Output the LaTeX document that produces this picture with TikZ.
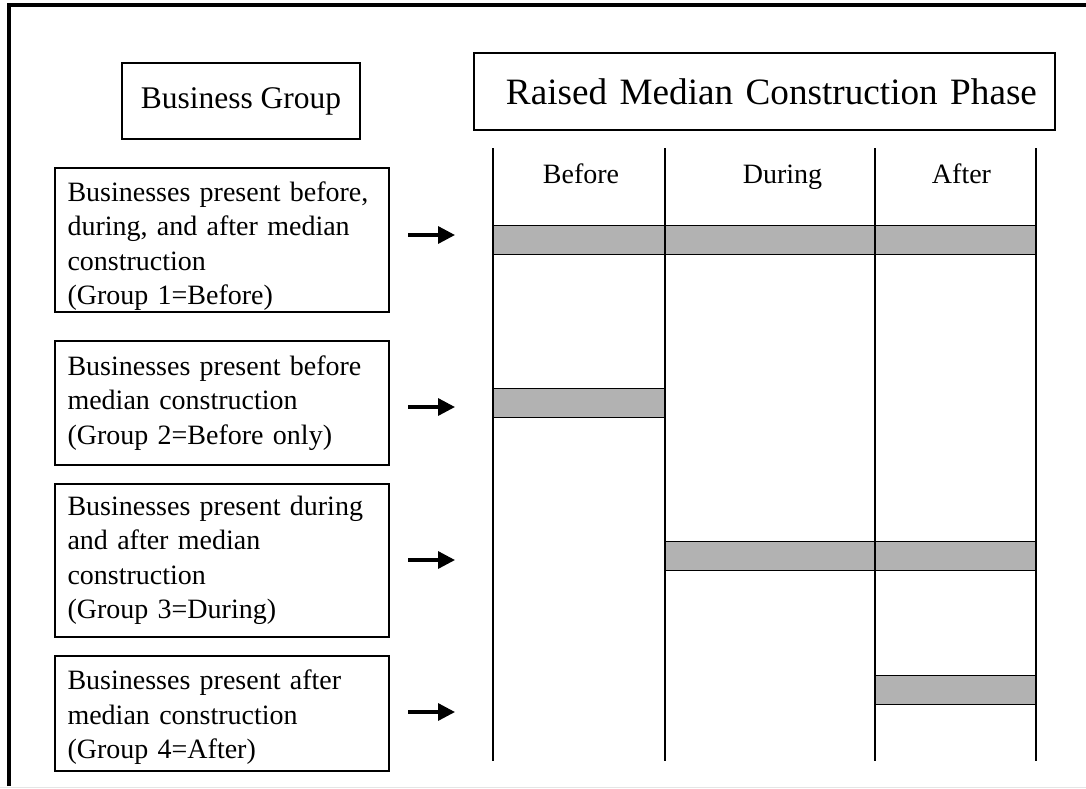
\documentclass[tikz,border=0pt]{standalone}
\usepackage{fontspec}
\setmainfont{Liberation Serif}
\usetikzlibrary{arrows.meta,positioning}

\begin{document}
\begin{tikzpicture}[x=1pt, y=-1pt, on grid, >={Triangle[length=17pt,width=17pt]},
                font=\fontsize{28}{34.5}\selectfont,
                grp/.style={draw, line width=1.2pt, minimum width=334pt, text width=309pt, inner xsep=12.5pt, inner ysep=1pt, align=left},
                head/.style={draw, line width=1.2pt, inner sep=0pt},
                bar/.style={draw, line width=1pt, fill=black!30},
                col/.style={line width=1.2pt},
                arr/.style={->, line width=3.3pt}]
                \useasboundingbox (0,0) rectangle (1086,788);
                % frame
                \draw[line width=4pt] (8.8,786) -- (8.8,5.3) -- (1086,5.3);
                \draw[black!10, line width=1pt] (0,787) -- (1086,787);

                % headers
                \node[head, minimum width=238pt, minimum height=76pt, font=\fontsize{31.5}{36}\selectfont] (0) at (241,101) {Business Group};
                \node[head, minimum height=77pt, text width=545pt, inner xsep=18pt, align=right, font=\fontsize{37.2}{44}\selectfont] (00) at (764.5,91.5) {Raised Median Construction Phase};

                % business groups
                \node[grp, minimum height=144pt] (1) at (222,240) {\rule{0pt}{32pt}Businesses present before,\\during, and after median\\construction\\(Group 1=Before)};
                \node[grp, minimum height=124pt, below=163pt of 1] (2) {Businesses present before\\median construction\\(Group 2=Before only)};
                \node[grp, minimum height=153pt, below=157.5pt of 2] (3) {Businesses present during\\and after median\\construction\\(Group 3=During)};
                \node[grp, minimum height=115pt, below=153pt of 3] (4) {\rule{0pt}{27pt}Businesses present after\\median construction\\(Group 4=After)};

                % phase bars
                \draw[bar] (493,225) rectangle (1036,254);
                \draw[bar] (493,388) rectangle (665,417);
                \draw[bar] (665,541) rectangle (1036,570);
                \draw[bar] (875,675) rectangle (1036,704);
                \foreach \x in {493,665,875,1036}
                    \draw[col] (\x,148) -- (\x,761);

                \node[anchor=base] (5) at (581,183) {Before};
                \node[anchor=base] (6) at (782.5,183) {During};
                \node[anchor=base] (7) at (961.5,183) {After};

                \foreach \i/\y in {1/235,2/407,3/560,4/712} {
                    \coordinate (s\i) at (408,\y);
                    \coordinate (e\i) at (455,\y);
                    \draw[arr] (s\i) -- (e\i);
                }
\end{tikzpicture}
\end{document}
